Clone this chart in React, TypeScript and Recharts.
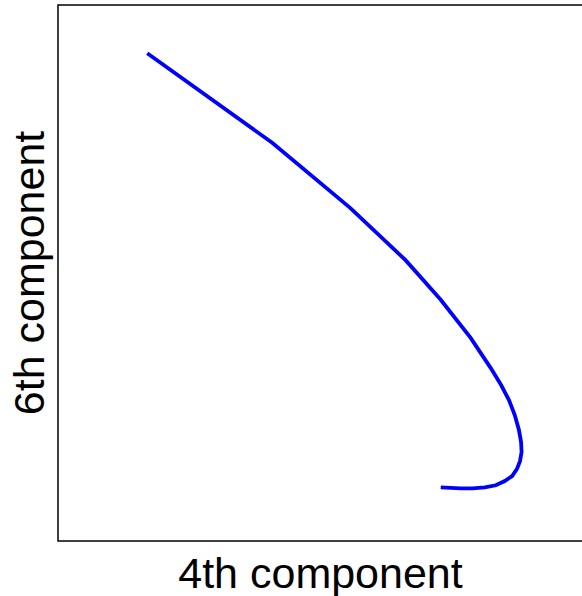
import { LineChart, Line, XAxis, YAxis, ReferenceArea } from 'recharts';

// curve traced along the 4th / 6th components (plot units 0..100)
const comp4 = [
  17.0, 40.8, 55.7, 66.2, 72.9, 78.6, 82.4, 84.4, 85.9, 87.0, 87.8, 88.2, 88.3,
  88.0, 87.4, 86.5, 85.1, 83.4, 81.3, 79.0, 76.7, 74.8, 72.9,
];
const comp6 = [
  91.0, 74.3, 62.1, 52.4, 45.0, 37.9, 32.3, 29.1, 26.3, 23.5, 20.7, 18.5, 16.6,
  14.9, 13.4, 12.1, 11.2, 10.4, 10.0, 9.8, 9.8, 9.9, 10.0,
];

const data = comp4.map((x, i) => ({ x, y: comp6[i] }));

const font = '"Liberation Sans", Arial, Helvetica, sans-serif';

export default function App() {
  return (
    <div style={{ position: 'absolute', left: 0, top: 0, width: 582, height: 596, overflow: 'hidden', background: '#fff' }}>
      <LineChart
        width={584}
        height={596}
        data={data}
        margin={{ top: 5, right: 1, left: 0, bottom: 0 }}
      >
        <XAxis
          type="number"
          dataKey="x"
          domain={[0, 100]}
          tick={false}
          tickLine={false}
          axisLine={false}
          height={55}
          label={{
            value: '4th component',
            position: 'insideBottom',
            offset: 8,
            style: { fontFamily: font, fontSize: 43, fill: '#000' },
          }}
        />
        <YAxis
          type="number"
          dataKey="y"
          domain={[0, 100]}
          tick={false}
          tickLine={false}
          axisLine={false}
          width={58}
          label={{
            value: '6th component',
            position: 'center',
            angle: -90,
            style: { fontFamily: font, fontSize: 43, fill: '#000' },
          }}
        />
        {/* plot box */}
        <ReferenceArea x1={0} x2={100} y1={0} y2={100} fill="none" stroke="#000" strokeWidth={1.5} fillOpacity={0} />
        <Line
          type="linear"
          dataKey="y"
          stroke="#0000ff"
          strokeWidth={3.8}
          dot={false}
          isAnimationActive={false}
        />
      </LineChart>
    </div>
  );
}
